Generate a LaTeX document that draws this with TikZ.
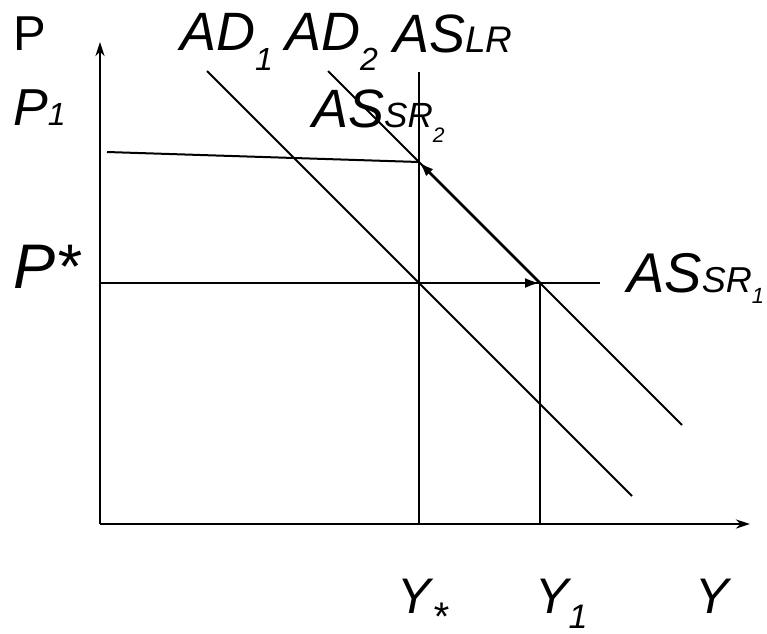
\documentclass[tikz,border=0pt]{standalone}
\usepackage{fontspec}
\setmainfont{Liberation Sans}
\usetikzlibrary{arrows.meta}

\newcommand{\fsz}[1]{\fontsize{#1}{#1}\selectfont}
\newcommand{\lowsub}[3]{\raisebox{-#1pt}{\fsz{#2}#3}}

\tikzset{
  lbl/.style={anchor=base west, inner sep=0pt, font=\itshape\fsz{54}},
  curve/.style={line width=2pt},
  move/.style={line width=2.8pt, -{Latex[length=15pt,width=10pt]}}
}

\begin{document}
\begin{tikzpicture}[x=1pt, y=-1pt, >=Stealth]
    \useasboundingbox (0,0) rectangle (767,633);
    % points
    \coordinate (O) at (100,524);
    \coordinate (ytop) at (100,42);
    \coordinate (xend) at (750,524);
    \coordinate (E0) at (419,283);
    \coordinate (E1) at (540,283);
    \coordinate (E2) at (419,162);
    \coordinate (lrtop) at (419,72);
    \coordinate (lrbot) at (419,524);
    \coordinate (y1bot) at (540,524);
    \coordinate (ad1a) at (207,71);
    \coordinate (ad1b) at (632,496);
    \coordinate (ad2a) at (328,71);
    \coordinate (ad2b) at (682,425);
    \coordinate (sr1a) at (100,283);
    \coordinate (sr1b) at (600,283);
    \coordinate (sr2a) at (107,152);
    % axes
    \draw[line width=2.8pt, -{Stealth[length=14pt,width=9pt]}] (O) -- (ytop);
    \draw[line width=2.8pt, -{Stealth[length=14pt,width=9pt]}] (O) -- (xend);
    % curves
    \draw[curve] (ad1a) -- (ad1b);
    \draw[curve] (ad2a) -- (ad2b);
    \draw[curve] (lrtop) -- (lrbot);
    \draw[curve] (E1) -- (y1bot);
    \draw[curve] (sr1a) -- (sr1b);
    \draw[curve] (sr2a) -- (E2);
    % adjustment
    \draw[move] (E0) -- (E1);
    \draw[move] (E1) -- (E2);
    % labels
    \node[lbl, font=\fsz{49}] (Plbl) at (13,50) {P};
    \node[lbl, font=\itshape\fsz{52}] (P1lbl) at (13,125) {P{\fsz{32}1}};
    \node[lbl, font=\itshape\fsz{63}] (Pstar) at (13,288) {P*};
    \node[lbl] (AD1lbl) at (180,50) {AD\lowsub{20}{32}{1}};
    \node[lbl] (AD2lbl) at (285,50) {AD\lowsub{20}{32}{2}};
    \node[lbl] (LRlbl) at (393,52) {AS{\fsz{37}LR}};
    \node[lbl] (SR2lbl) at (312,127) {AS{\fsz{35}SR\lowsub{15}{21}{2}}};
    \node[lbl, font=\itshape\fsz{56}] (SR1lbl) at (627,292) {AS{\fsz{36}SR\lowsub{11}{22}{1}}};
    \node[lbl, font=\itshape\fsz{50}] (Ystar) at (397,613) {Y\hspace{2pt}\lowsub{17}{40}{*}};
    \node[lbl, font=\itshape\fsz{50}] (Y1lbl) at (535,613) {Y\lowsub{15}{34}{1}};
    \node[lbl, font=\itshape\fsz{50}] (Ylbl) at (695,613) {Y};
\end{tikzpicture}
\end{document}
